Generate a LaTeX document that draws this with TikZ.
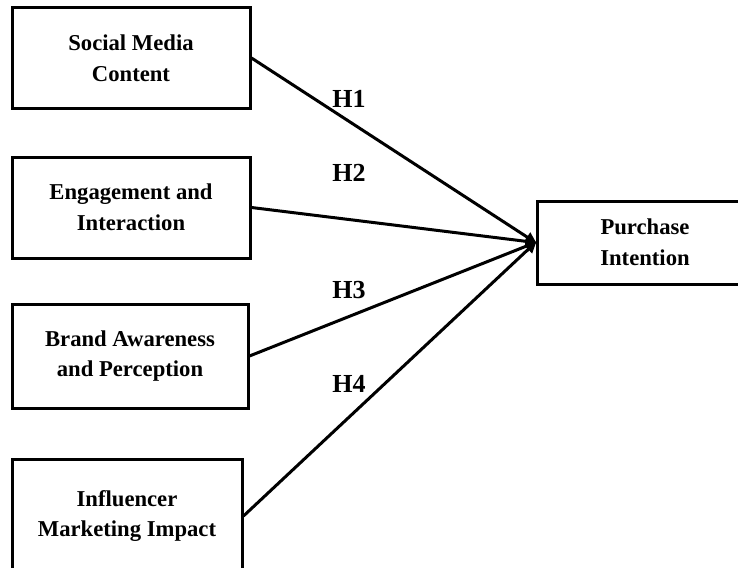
\documentclass[tikz,border=0pt]{standalone}
\usepackage{fontspec}
\setmainfont{Liberation Serif}
\usetikzlibrary{arrows.meta}
\tikzset{
  box/.style={draw=black, line width=2.25pt, rectangle, inner sep=0pt, align=center,
    font=\fontsize{17}{23}\selectfont\bfseries},
  hlabel/.style={anchor=base west, inner sep=0pt, font=\fontsize{19.5}{23}\selectfont\bfseries},
  link/.style={line width=2.25pt, -{Triangle[length=8.5pt,width=8pt]}, shorten >=-1pt}
}
\begin{document}
\begin{tikzpicture}[x=0.75pt,y=-0.75pt]
\useasboundingbox (0,0) rectangle (738,567);
\node[box, minimum width=238*0.75pt, minimum height=100*0.75pt] (smc) at (131,58) {Social Media\\Content};
\node[box, minimum width=238*0.75pt, minimum height=101*0.75pt] (eng) at (131,207.5) {Engagement and\\Interaction};
\node[box, minimum width=236*0.75pt, minimum height=104*0.75pt] (baw) at (130,356) {Brand Awareness\\and Perception};
\node[box, minimum width=230*0.75pt, minimum height=114*0.75pt] (inf) at (127,516) {Influencer\\Marketing Impact};
\node[box, minimum width=216*0.75pt, minimum height=83*0.75pt] (pi) at (645,242.5) {Purchase\\Intention};
\draw[link] (smc.east) -- (pi.west);
\draw[link] (eng.east) -- (pi.west);
\draw[link] (baw.east) -- (pi.west);
\draw[link] (inf.east) -- (pi.west);
\node[hlabel] (h1) at (332,107) {H1};
\node[hlabel] (h2) at (332,181) {H2};
\node[hlabel] (h3) at (332,298) {H3};
\node[hlabel] (h4) at (332,392) {H4};
\end{tikzpicture}
\end{document}
